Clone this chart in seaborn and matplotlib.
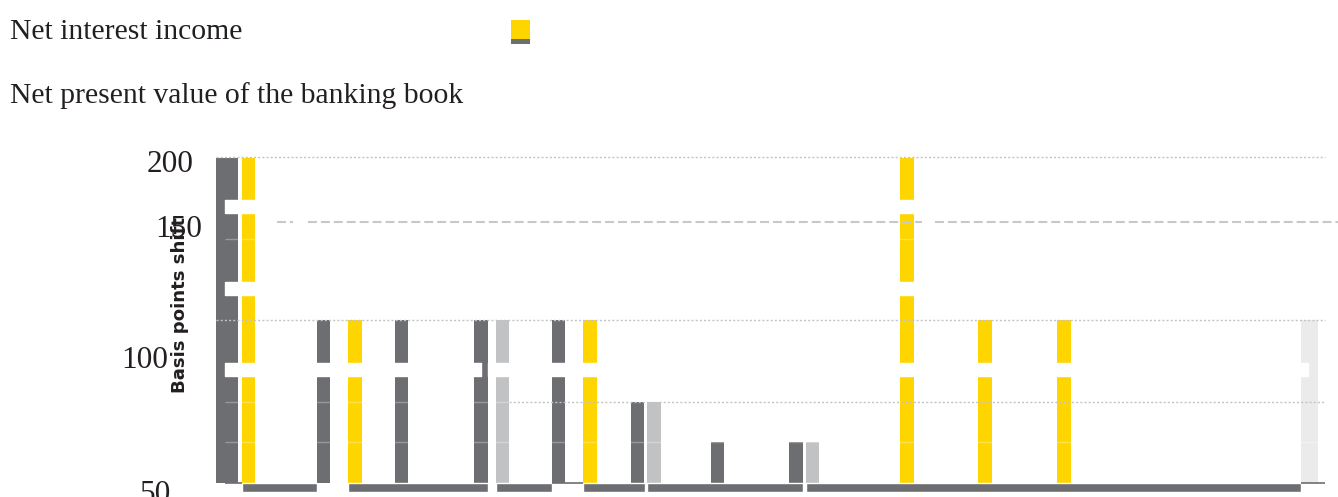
import matplotlib
matplotlib.use("Agg")
import matplotlib.pyplot as plt
from matplotlib import font_manager
from matplotlib.patches import Rectangle
from matplotlib.transforms import ScaledTranslation
import pandas as pd
import seaborn as sns

# ---- data -------------------------------------------------------------
BASE = 50  # axis floor, bars rise from here

# main bars: position on the shift axis, level reached, series
bar_pos = [3.25, 10.75, 13.9, 18.55, 26.5, 28.65, 34.25, 37.4, 42.15,
           43.8, 50.15, 58.0, 59.65, 69.1, 76.9, 84.8]
bar_level = [200, 125, 125, 125, 125, 125, 125, 125, 87.5,
             87.5, 69, 69, 69, 200, 125, 125]
bar_series = ["nii", "npv", "nii", "npv", "npv", "ref", "npv", "nii", "npv",
              "ref", "npv", "npv", "ref", "nii", "nii", "nii"]

# wide reference column on the left and the pale column on the right
edge_pos = [1.1]
edge_level = [200]
tail_pos = [109.35]
tail_level = [125]

# dark base strips under the bars (start, end)
base_start = [2.6, 13.2, 28.0, 36.7, 43.1, 59.0]
base_end = [10.1, 27.2, 33.6, 42.9, 58.7, 108.5]

# y tick positions and labels
tick_pos = [200, 170.4, 110, 48.5]
tick_labels = ["200", "150", "100", "50"]

# horizontal reference levels
dotted_levels = [200, 125]
dashed_level = 170.4
soft_levels = [162.5, 87.6, 69.15]

# scale breaks (low, high)
break_low = [174.45, 136.7, 99.4]
break_high = [180.4, 142.8, 105.5]

legend_labels = ["Net interest income", "Net present value of the banking book"]

# ---- style ------------------------------------------------------------
DARK = "#6d6e71"
YELLOW = "#ffd500"
LIGHT = "#c1c2c4"
PALE = "#ebebeb"
INK = "#231f20"
palette = {"nii": YELLOW, "npv": DARK, "ref": LIGHT}

sns.set_style("white")
plt.rcParams["font.family"] = ["Liberation Serif", "DejaVu Serif"]

fig = plt.figure(figsize=(13.38, 4.97), dpi=100)
W, H = 1338, 497
ax = fig.add_axes([216 / W, 0, 1109 / W, 1 - 157.5 / H])

df = pd.DataFrame({"pos": bar_pos, "level": bar_level, "series": bar_series})
df["height"] = df["level"] - BASE
sns.barplot(data=df, x="pos", y="height", hue="series", palette=palette,
            native_scale=True, dodge=False, width=0.82, saturation=1,
            bottom=BASE, linewidth=0, errorbar=None, legend=False, ax=ax)

edge_df = pd.DataFrame({"pos": edge_pos, "level": edge_level})
sns.barplot(x=edge_df["pos"], y=edge_df["level"] - BASE, native_scale=True,
            width=2.2, color=DARK, saturation=1, bottom=BASE, linewidth=0,
            errorbar=None, ax=ax)

tail_df = pd.DataFrame({"pos": tail_pos, "level": tail_level})
sns.barplot(x=tail_df["pos"], y=tail_df["level"] - BASE, native_scale=True,
            width=1.7, color=PALE, saturation=1, bottom=BASE, linewidth=0,
            errorbar=None, ax=ax)

x_max = 110.9
ax.set_xlim(0, x_max)
ax.set_ylim(BASE - 6.3, 200)

# scale breaks cut through the columns
for lo, hi in zip(break_low, break_high):
    if lo < 110:
        spans = [(0.9, 26.5 - 0.9), (27.2, 109.2 - 27.2)]
    else:
        spans = [(0.9, x_max - 0.9)]
    ax.broken_barh(spans, (lo, hi - lo), facecolor="white", zorder=2)

# base strips
ax.broken_barh([(s, e - s) for s, e in zip(base_start, base_end)],
               (BASE - 3.9, 3.9), facecolor=DARK, zorder=2)
ax.hlines([BASE, BASE, BASE], [0.9, 33.6, 108.5], [2.6, 36.7, x_max],
          color=DARK, lw=1.2, zorder=2)

# reference levels
ax.hlines(dotted_levels, 0, x_max, color="#c4c4c4", lw=1,
          linestyles=(0, (1.5, 1.5)), zorder=3, clip_on=False)
ax.hlines(87.6, 29.3, x_max, color="#c4c4c4", lw=1,
          linestyles=(0, (1.5, 1.5)), zorder=3)
ax.hlines([dashed_level, dashed_level, dashed_level], [6.1, 9.2, 71.9],
          [7.7, 70.6, 112.2], color="#c8c8c8", lw=1.5,
          linestyles=(0, (4.3, 1.9)), zorder=3, clip_on=False)
ax.hlines(soft_levels, [0.9, 0.9, 0.9], [x_max, 29.3, x_max], color="white",
          alpha=0.3, lw=1, zorder=3)

# axes decoration
for s in ax.spines.values():
    s.set_visible(False)
ax.set_xticks([])
ax.set_xlabel("")
ax.set_ylabel("")
ax.set_yticks(tick_pos, tick_labels)
ax.tick_params(axis="y", length=0, pad=0, labelsize=22.5, labelcolor=INK)
right_edges = [193, 202, 168, 170]
for lbl, r in zip(ax.get_yticklabels(), right_edges):
    lbl.set_transform(lbl.get_transform() +
                      ScaledTranslation(-(216 - r) / 100, -0.04,
                                        fig.dpi_scale_trans))

# rotated axis title
names = {f.name for f in font_manager.fontManager.ttflist}
if "Liberation Sans Narrow" in names:
    lab_family, lab_size = "Liberation Sans Narrow", 18.8
else:
    lab_family, lab_size = "DejaVu Sans", 13.1
fig.text(180 / W, 1 - 305 / H, "Basis points shift", rotation=90,
         ha="center", va="center", fontsize=lab_size, fontweight="bold",
         family=lab_family, color=INK)

# header lines and key swatch
fig.text(10 / W, 1 - 39.3 / H, legend_labels[0], va="baseline",
         fontsize=21.3, color=INK)
fig.text(10 / W, 1 - 103.3 / H, legend_labels[1], va="baseline",
         fontsize=21.3, color=INK)
fig.add_artist(Rectangle((511 / W, 1 - 39 / H), 19 / W, 19 / H,
                         transform=fig.transFigure, facecolor=YELLOW,
                         edgecolor="none"))
fig.add_artist(Rectangle((511 / W, 1 - 44 / H), 19 / W, 5 / H,
                         transform=fig.transFigure, facecolor=DARK,
                         edgecolor="none"))

fig.savefig("out.png", dpi=100)
